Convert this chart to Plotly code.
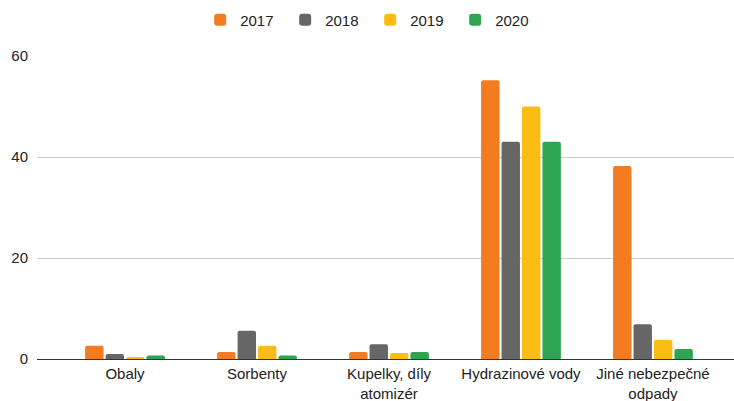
import plotly.graph_objects as go

categories = ["Obaly", "Sorbenty", "Kupelky, díly<br>atomizér", "Hydrazinové vody", "Jiné nebezpečné<br>odpady"]
years = ["2017", "2018", "2019", "2020"]
v2017 = [2.6, 1.4, 1.4, 55.2, 38.2]
v2018 = [1.0, 5.6, 2.9, 43.0, 6.9]
v2019 = [0.4, 2.6, 1.2, 50.0, 3.8]
v2020 = [0.7, 0.7, 1.4, 43.0, 2.0]
colors = ["#F47B20", "#666666", "#FBBC14", "#2EA553"]
series = [v2017, v2018, v2019, v2020]

FONT = "Liberation Sans, Arial, sans-serif"

fig = go.Figure()
for name, vals, col in zip(years, series, colors):
    fig.add_trace(go.Bar(x=list(range(len(categories))), y=vals, name=name,
                         marker=dict(color=col, line=dict(width=0))))

fig.update_layout(
    width=734, height=401,
    margin=dict(l=37, r=0, t=56, b=42, autoexpand=False),
    paper_bgcolor="white", plot_bgcolor="white",
    font=dict(family=FONT, size=15, color="#222222"),
    barmode="group", bargap=0.38, bargroupgap=0.1,
    barcornerradius=2,
    showlegend=True,
    legend=dict(orientation="h", x=0.478, xanchor="center", y=1.119, yanchor="middle",
                font=dict(family=FONT, size=15, color="#222222"), itemwidth=30,
                entrywidth=40, entrywidthmode="pixels",
                traceorder="normal"),
    xaxis=dict(tickmode="array", tickvals=list(range(len(categories))), ticktext=categories,
               range=[-0.667, 4.614], showgrid=False, showline=False, zeroline=False,
               ticks="", automargin=False, ticklabelstandoff=4,
               tickfont=dict(family=FONT, size=15, color="#222222")),
    yaxis=dict(range=[0, 60], tickvals=[0, 20, 40, 60], showgrid=True, gridcolor="#CCCCCC",
               gridwidth=1, zeroline=True, zerolinecolor="#333333", zerolinewidth=1,
               showline=False, ticks="", automargin=False,
               tickfont=dict(family=FONT, size=15, color="#222222"),
               ticklabelstandoff=8),
)
fig.write_html("out.html", config={"displayModeBar": False},
               post_script="document.body.style.margin='0';document.body.style.overflow='hidden';")
